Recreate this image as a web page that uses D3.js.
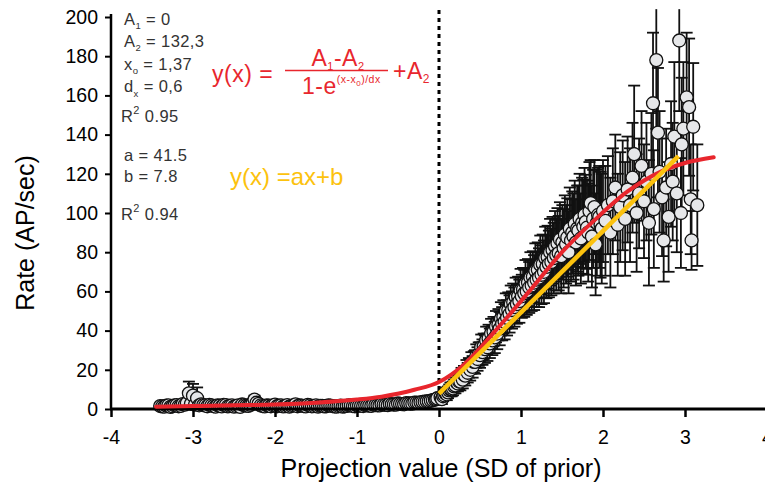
<!DOCTYPE html>
<html>
<head>
<meta charset="utf-8">
<script src="https://cdn.jsdelivr.net/npm/d3@7"></script>
<style>
  html, body { margin: 0; padding: 0; background: #fff; }
  svg { display: block; font-family: "Liberation Sans", Arial, sans-serif; }
</style>
</head>
<body>
<svg id="chart" width="765" height="489"></svg>
<script>
// ---- data ----
const xTicks = [-4, -3, -2, -1, 0, 1, 2, 3, 4];
const yTicks = [0, 20, 40, 60, 80, 100, 120, 140, 160, 180, 200];

// main series of binned points
const pointX = [
  -3.40,-3.35,-3.30,-3.25,-3.20,-3.15,-3.10,-3.05,-3.00,-2.95,-2.90,-2.85,-2.80,-2.75,-2.70,-2.65,-2.60,-2.55,-2.50,-2.45,
  -2.40,-2.35,-2.30,-2.25,-2.20,-2.15,-2.10,-2.05,-2.00,-1.95,-1.90,-1.85,-1.80,-1.75,-1.70,-1.65,-1.60,-1.55,-1.50,-1.45,
  -1.40,-1.35,-1.30,-1.25,-1.20,-1.15,-1.10,-1.05,-1.00,-0.95,-0.90,-0.85,-0.80,-0.75,-0.70,-0.65,-0.60,-0.55,-0.50,-0.45,
  -0.40,-0.35,-0.30,-0.25,-0.20,-0.15,-0.10,-0.05,-0.02,
  0.02,0.05,0.08,0.11,0.14,0.17,0.20,0.23,0.26,0.29,0.32,0.35,0.38,0.41,0.44,0.47,0.50,0.53,0.56,0.59,
  0.62,0.65,0.68,0.71,0.74,0.77,0.80,0.83,0.86,0.89,0.92,0.95,0.98,1.01,1.04,1.07,1.10,1.13,1.16,1.19,
  1.22,1.25,1.28,1.31,1.34,1.37,1.40,1.43,1.46,1.49,1.52,1.55,1.58,1.61,1.64,1.67,1.70,1.73,1.76,1.79,
  1.82,1.85,1.88,1.91,1.94,1.97,2.00,2.03,2.06,2.09,2.12,2.15,2.18,2.21,2.24,2.27,2.30,2.33,2.36,2.38,
  2.41,2.44,2.47,2.50,2.53,2.56,2.59,2.61,2.62,2.65,2.67,2.69,2.72,2.74,2.77,2.80,2.83,2.85,2.87,2.90,
  2.93,2.95,2.96,2.98,3.02,3.05,3.07,3.08,3.10,3.15
];
const pointY = [
  1.5,1.2,1.8,1.4,2.0,1.6,2.2,8.0,6.8,5.5,2.4,1.8,2.1,1.5,1.9,1.3,2.0,1.6,1.2,1.9,
  2.3,1.7,2.1,4.8,2.6,1.5,1.9,1.4,2.2,1.7,1.3,2.0,1.6,2.4,1.8,1.5,2.1,1.4,1.9,1.6,
  1.3,1.8,1.5,1.2,1.7,1.4,1.9,1.5,1.8,1.6,2.0,1.7,2.2,1.9,2.4,2.1,2.6,2.3,2.8,2.5,
  3.0,2.8,3.3,3.1,3.6,3.9,4.3,4.8,5.4,
  6.0,6.5,8.0,8.5,10.0,10.5,12.0,13.0,14.0,15.0,17.0,18.5,20.0,21.5,24.0,25.5,27.5,29.0,30.5,31.5,
  33.5,35.0,36.5,38.5,41.0,43.5,44.5,46.5,48.5,50.5,52.0,53.5,55.0,57.5,59.0,60.0,62.0,63.0,64.5,66.0,
  67.0,68.5,70.0,72.5,74.0,75.0,77.0,78.5,79.5,78.0,82.0,84.0,80.0,86.0,88.0,85.0,91.0,87.0,93.0,95.5,
  90.0,105.0,97.0,84.0,99.0,94.0,101.0,96.0,104.0,90.0,106.0,113.0,94.0,103.0,109.0,97.0,112.0,104.0,118.0,130.0,
  100.0,110.0,124.0,106.0,116.0,95.0,120.0,156.0,102.0,178.0,141.0,121.0,108.0,86.0,113.0,98.0,125.0,116.0,139.0,110.0,
  188.0,100.0,135.0,143.0,159.0,154.0,107.0,86.0,144.0,104.0
];
const pointErr = [
  1.2,1.2,1.2,1.2,1.3,1.3,1.3,6.0,6.0,5.5,1.3,1.2,1.2,1.2,1.2,1.2,1.2,1.2,1.2,1.2,
  1.2,1.2,1.2,2.0,1.3,1.2,1.2,1.2,1.2,1.2,1.2,1.2,1.2,1.3,1.2,1.2,1.2,1.2,1.2,1.2,
  1.2,1.2,1.2,1.2,1.2,1.2,1.2,1.2,1.2,1.2,1.2,1.2,1.2,1.2,1.3,1.3,1.3,1.3,1.4,1.4,
  1.4,1.5,1.5,1.5,1.6,1.6,1.7,1.8,2.0,
  2.5,2.5,3,3,3.5,3.5,4,4,4.5,4.5,5,5,5.5,5.5,6,6,6.5,6.5,7,7,
  7.5,7.5,8,8,8.5,8.5,9,9,9.5,9.5,10,10,11,11,12,12,13,13,14,14,
  15,15,16,16,17,17,18,18,19,19,20,20,21,21,22,22,23,23,24,24,
  25,22,25,26,24,27,26,28,25,28,27,27,26,28,28,29,27,29,28,35,
  30,28,28,29,30,32,31,36,30,35,33,31,30,21,30,28,32,30,38,30,
  36,28,34,34,33,35,28,15,32.5,31
];

// interleaved second series of binned points (denser band)
const bandX = [
  -3.375,-3.325,-3.275,-3.225,-3.175,-3.125,-3.075,-3.025,-2.975,-2.925,-2.875,-2.825,-2.775,-2.725,-2.675,-2.625,-2.575,
  -2.525,-2.475,-2.425,-2.375,-2.325,-2.275,-2.225,-2.175,-2.125,-2.075,-2.025,-1.975,-1.925,-1.875,-1.825,-1.775,-1.725,
  -1.675,-1.625,-1.575,-1.525,-1.475,-1.425,-1.375,-1.325,-1.275,-1.225,-1.175,-1.125,-1.075,-1.025,-0.975,-0.925,-0.875,
  -0.825,-0.775,-0.725,-0.675,-0.625,-0.575,-0.525,-0.475,-0.425,-0.375,-0.325,-0.275,-0.225,-0.175,-0.125,-0.075,-0.035,
  0.035,0.065,0.095,0.125,0.155,0.185,0.215,0.245,0.275,0.305,0.335,0.365,0.395,0.425,0.455,0.485,0.515,0.545,0.575,0.605,
  0.635,0.665,0.695,0.725,0.755,0.785,0.815,0.845,0.875,0.905,0.935,0.965,0.995,1.025,1.055,1.085,1.115,1.145,1.175,1.205,
  1.235,1.265,1.295,1.325,1.355,1.385,1.415,1.445,1.475,1.505,1.535,1.565,1.595,1.625,1.655,1.685,1.715,1.745,1.775,1.805,
  1.835,1.865,1.895,1.925,1.955,1.985
];
const bandY = [
  1.3,1.7,1.1,1.9,1.4,2.5,3.0,2.6,2.2,1.9,2.0,1.4,1.8,1.2,1.7,2.1,1.3,
  1.8,1.5,1.1,2.0,1.6,2.8,3.2,1.8,1.3,1.7,1.9,1.4,1.8,1.5,1.2,1.9,1.4,
  1.7,1.3,1.8,1.5,1.2,1.6,1.4,1.7,1.3,1.5,1.2,1.6,1.8,1.4,1.7,1.5,1.9,
  1.6,2.0,1.8,2.2,2.0,2.4,2.2,2.6,2.4,2.9,2.7,3.2,3.4,3.7,4.0,4.5,5.0,
  5.0,7.0,7.5,9.5,10.0,11.5,13.5,14.0,16.5,17.5,20.0,21.0,23.5,24.0,27.0,28.0,31.5,32.0,35.0,36.0,
  38.5,39.5,42.0,43.0,46.0,47.0,50.0,50.5,53.5,54.5,57.0,57.5,60.5,61.0,64.0,64.5,67.0,67.5,70.5,71.0,
  73.5,74.0,77.0,77.5,80.0,81.0,83.0,84.5,86.5,85.0,89.0,87.5,92.0,90.0,94.5,92.0,97.0,95.0,99.0,92.5,
  101.0,88.0,103.0,95.0,98.0,92.0
];
const bandErr = [
  1.2,1.2,1.2,1.2,1.2,1.5,2.0,1.8,1.5,1.3,1.3,1.2,1.2,1.2,1.2,1.2,1.2,
  1.2,1.2,1.2,1.2,1.2,1.6,1.8,1.2,1.2,1.2,1.2,1.2,1.2,1.2,1.2,1.2,1.2,
  1.2,1.2,1.2,1.2,1.2,1.2,1.2,1.2,1.2,1.2,1.2,1.2,1.2,1.2,1.2,1.2,1.2,
  1.2,1.2,1.2,1.3,1.3,1.3,1.3,1.4,1.4,1.5,1.5,1.5,1.6,1.6,1.7,1.8,2.0,
  2.5,2.5,3,3,3.5,3.5,4,4,4.5,4.5,5,5,5.5,5.5,6,6,6.5,6.5,7,7,
  7.5,7.5,8,8,8.5,8.5,9,9,9.5,9.5,10,10,11,11,12,12,13,13,14,14,
  15,15,16,16,17,17,18,18,19,19,20,20,21,21,22,22,23,23,24,24,
  25,26,24,27,26,28
];

// Boltzmann fit curve
const fitX = [-3.45,-3.0,-2.5,-2.0,-1.5,-1.0,-0.7,-0.3,0.0,0.3,0.7,1.1,1.5,1.9,2.3,2.7,3.0,3.35];
const fitY = [1.2,1.5,1.9,2.3,3.2,4.8,6.3,9.8,13.8,22.5,40.5,60.0,80.0,96.5,111.0,121.0,125.5,128.4];

// Linear fit
const linA = 41.5, linB = 7.8;
const linRange = [0.0, 2.92];

// ---- layout ----
const svg = d3.select("#chart");
const x = d3.scaleLinear().domain([-4, 4]).range([111, 767]);
const y = d3.scaleLinear().domain([0, 200]).range([409, 17]);
const FONT = '"Liberation Sans", Arial, sans-serif';

// dotted vertical line at 0
svg.append("line")
  .attr("x1", x(0)).attr("x2", x(0))
  .attr("y1", 10).attr("y2", y(0))
  .attr("stroke", "#000").attr("stroke-width", 3)
  .attr("stroke-dasharray", "4,4");

// points
const pts = pointX.map((v, i) => ({x: v, y: pointY[i], e: pointErr[i]}))
  .concat(bandX.map((v, i) => ({x: v, y: bandY[i], e: bandErr[i]})))
  .sort((a, b) => a.x - b.x);

// error bars
const yMaxClip = 204;
const eb = svg.append("g").attr("stroke", "#111").attr("stroke-width", 1.8);
pts.forEach(p => {
  const top = Math.min(p.y + p.e, yMaxClip);
  const bot = Math.max(p.y - p.e, 0);
  const cx = x(p.x);
  eb.append("line").attr("x1", cx).attr("x2", cx).attr("y1", y(top)).attr("y2", y(bot));
  if (p.y + p.e <= yMaxClip)
    eb.append("line").attr("x1", cx - 6).attr("x2", cx + 6).attr("y1", y(top)).attr("y2", y(top));
  eb.append("line").attr("x1", cx - 6).attr("x2", cx + 6).attr("y1", y(bot)).attr("y2", y(bot));
});

// markers
svg.append("g").selectAll("circle").data(pts).join("circle")
  .attr("cx", d => x(d.x)).attr("cy", d => y(d.y)).attr("r", 6.5)
  .attr("fill", "#e6e7e9").attr("stroke", "#111").attr("stroke-width", 1.3);

// axes
const yAxis = svg.append("g").attr("transform", `translate(${x(-4)},0)`)
  .call(d3.axisLeft(y).tickValues(yTicks).tickSize(6).tickPadding(7).tickFormat(d => String(d)));
yAxis.select(".domain").attr("d", `M0,${y(0)}V${y(200) - 3}`).attr("stroke-width", 2.5);
yAxis.selectAll(".tick line").attr("stroke-width", 2);
yAxis.selectAll("text").attr("font-size", 19.5).attr("font-family", FONT).attr("fill", "#000");

const xAxis = svg.append("g").attr("transform", `translate(0,${y(0)})`)
  .call(d3.axisBottom(x).tickValues(xTicks).tickSize(8).tickPadding(13).tickFormat(d => String(d)));
xAxis.select(".domain").attr("d", `M${x(-4) - 1},0H765`).attr("stroke-width", 3);
xAxis.selectAll(".tick line").attr("stroke-width", 2.5);
xAxis.selectAll("text").attr("font-size", 19.5).attr("font-family", FONT).attr("fill", "#000");

// fit curves (on top)
svg.append("path")
  .attr("d", d3.line().x((d, i) => x(fitX[i])).y((d, i) => y(fitY[i])).curve(d3.curveMonotoneX)(fitX))
  .attr("fill", "none").attr("stroke", "#e8262d").attr("stroke-width", 4).attr("stroke-linecap", "round");

svg.append("line")
  .attr("x1", x(linRange[0])).attr("y1", y(linA * linRange[0] + linB))
  .attr("x2", x(linRange[1])).attr("y2", y(linA * linRange[1] + linB))
  .attr("stroke", "#fcc20e").attr("stroke-width", 4.5);

// axis titles
svg.append("text").attr("x", 441).attr("y", 477).attr("text-anchor", "middle")
  .attr("font-size", 25).attr("font-family", FONT).text("Projection value (SD of prior)");
svg.append("text").attr("transform", "translate(34,233) rotate(-90)").attr("text-anchor", "middle")
  .attr("font-size", 25).attr("font-family", FONT).text("Rate (AP/sec)");

// parameter annotations
const ann = svg.append("g").attr("font-family", FONT).attr("font-size", 16.5)
  .attr("letter-spacing", 0.4).attr("fill", "#333");
function sub(t, main, s, rest, shift, size) {
  t.append("tspan").text(main);
  t.append("tspan").attr("font-size", size || 9.5).attr("dy", shift).text(s);
  t.append("tspan").attr("dy", -shift).text(rest);
}
sub(ann.append("text").attr("x", 124).attr("y", 25), "A", "1", " = 0", 4);
sub(ann.append("text").attr("x", 124).attr("y", 47), "A", "2", " = 132,3", 4);
sub(ann.append("text").attr("x", 124).attr("y", 70), "x", "o", " = 1,37", 4);
sub(ann.append("text").attr("x", 124).attr("y", 92), "d", "x", " = 0,6", 5);
sub(ann.append("text").attr("x", 121).attr("y", 122), "R", "2", " 0.95", -8, 11);
ann.append("text").attr("x", 124).attr("y", 161).text("a = 41.5");
ann.append("text").attr("x", 124).attr("y", 182).text("b = 7.8");
sub(ann.append("text").attr("x", 121).attr("y", 220), "R", "2", " 0.94", -8, 11);

// red formula
const red = "#e8262d";
const f = svg.append("g").attr("font-family", FONT).attr("fill", red).attr("letter-spacing", 0.5);
f.append("text").attr("x", 212).attr("y", 82).attr("font-size", 23).text("y(x) =");
const num = f.append("text").attr("x", 338).attr("y", 66).attr("font-size", 23).attr("text-anchor", "middle");
num.append("tspan").text("A");
num.append("tspan").attr("font-size", 11).attr("dy", 4).text("1");
num.append("tspan").attr("dy", -4).text("-A");
num.append("tspan").attr("font-size", 11).attr("dy", 4).text("2");
f.append("line").attr("x1", 285).attr("x2", 388).attr("y1", 70.5).attr("y2", 70.5)
  .attr("stroke", red).attr("stroke-width", 1.5);
const den = f.append("text").attr("x", 302).attr("y", 94).attr("font-size", 23);
den.append("tspan").text("1-e");
den.append("tspan").attr("font-size", 10.5).attr("dy", -11).text("(x-x");
den.append("tspan").attr("font-size", 8).attr("dy", 3).text("0");
den.append("tspan").attr("font-size", 10.5).attr("dy", -3).text(")/dx");
const plus = f.append("text").attr("x", 393).attr("y", 79).attr("font-size", 23);
plus.append("tspan").text("+A");
plus.append("tspan").attr("font-size", 12).attr("dy", 4).text("2");

// yellow formula
svg.append("text").attr("x", 230).attr("y", 185).attr("font-family", FONT).attr("font-size", 24)
  .attr("fill", "#fcc20e").text("y(x) =ax+b");
</script>
</body>
</html>
